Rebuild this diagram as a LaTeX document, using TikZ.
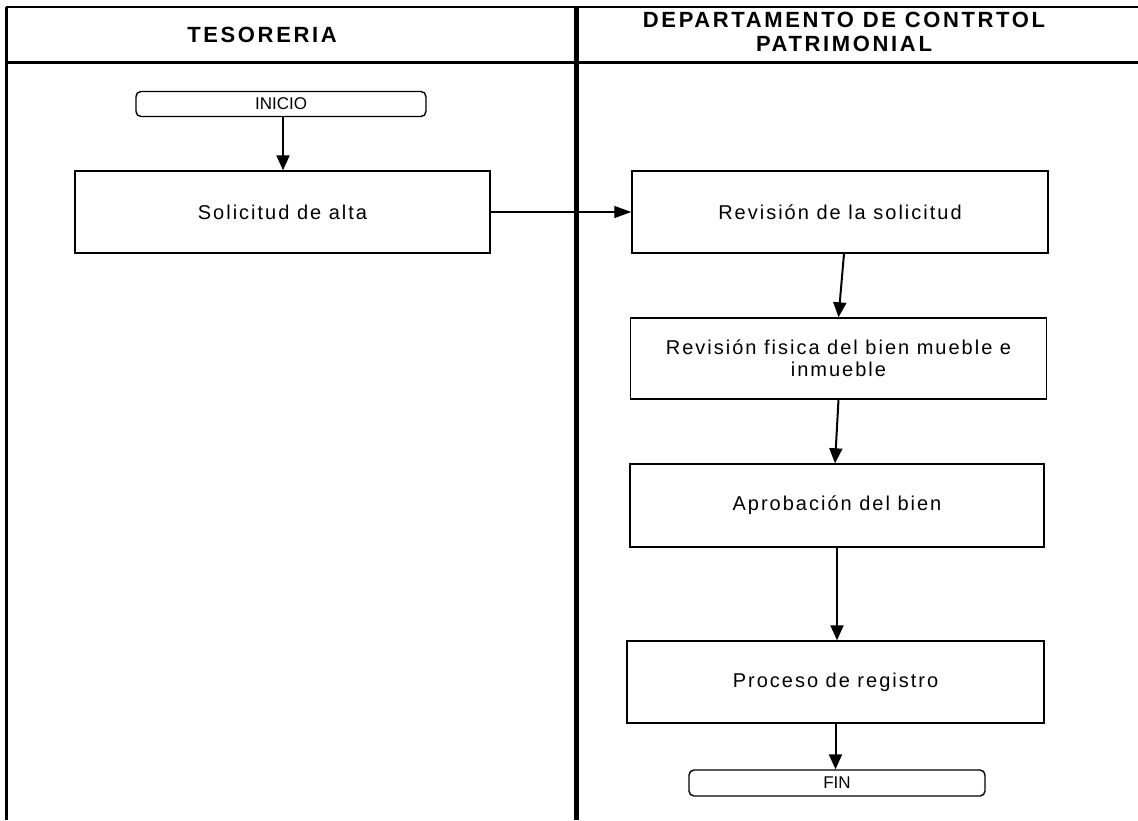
\documentclass[tikz,border=0pt]{standalone}
\usepackage{fontspec}
\setmainfont[LetterSpace=10]{Liberation Sans}
\newfontfamily\cabecera[LetterSpace=12]{Liberation Sans}
\newfontfamily\terminal[LetterSpace=0]{Liberation Sans}
\usetikzlibrary{arrows.meta}
\tikzset{proc/.style={draw,line width=1.4pt,minimum width=416pt,minimum height=82pt,align=center,font=\fontsize{20}{22}\selectfont}}
\tikzset{term/.style={draw,line width=1.4pt,rounded corners=5pt,minimum width=290pt,minimum height=25pt,font=\terminal\fontsize{17}{17}\selectfont}}
\tikzset{flecha/.style={line width=2pt,-{Triangle[length=15pt,width=13pt]}}}
\tikzset{titulo/.style={align=center,font=\cabecera\fontsize{22}{24}\selectfont\bfseries}}

\begin{document}
\begin{tikzpicture}[x=1pt,y=-1pt]
        \useasboundingbox (0,0) rectangle (1138,820);
        \draw[line width=1.2pt] (6,7) -- (1138,7);
        \draw[line width=3pt] (6,62) -- (1138,62);
        \draw[line width=3pt] (6,7) -- (6,820);
        \draw[line width=5pt] (576,7) -- (576,820);
        \node[titulo] (t1) at (262,35) {TESORERIA};
        \node[titulo] (t2) at (844,32) {DEPARTAMENTO DE CONTRTOL\\PATRIMONIAL};

        \node[term] (ini) at (281,104) {INICIO};
        \node[proc,minimum width=415pt] (sol) at (282.5,212) {Solicitud de alta};
        \node[proc] (rev) at (840,212) {Revisión de la solicitud};
        \node[proc,minimum height=81pt] (fis) at (838.5,358.5) {Revisión fisica del bien mueble e\\inmueble};
        \node[proc,minimum width=414pt,minimum height=83pt] (apr) at (837,505.5) {Aprobación del bien};
        \node[proc,minimum width=417pt] (pro) at (835.5,682) {Proceso de registro};
        \node[term,minimum width=296pt,minimum height=26pt] (fin) at (837,783) {FIN};

        \draw[flecha] (ini.south -| 283,0) -- (sol.north -| 283,0);
        \draw[line width=1.3pt,-{Triangle[length=17pt,width=12pt]}] (sol) -- (rev);
        \draw[flecha] ([xshift=4pt]rev.south) -- (fis.north);
        \draw[flecha] (fis.south) -- ([xshift=-2pt]apr.north);
        \draw[flecha] (apr.south) -- (apr.south |- pro.north);
        \draw[flecha] (pro.south) -- (pro.south |- fin.north);
\end{tikzpicture}
\end{document}
